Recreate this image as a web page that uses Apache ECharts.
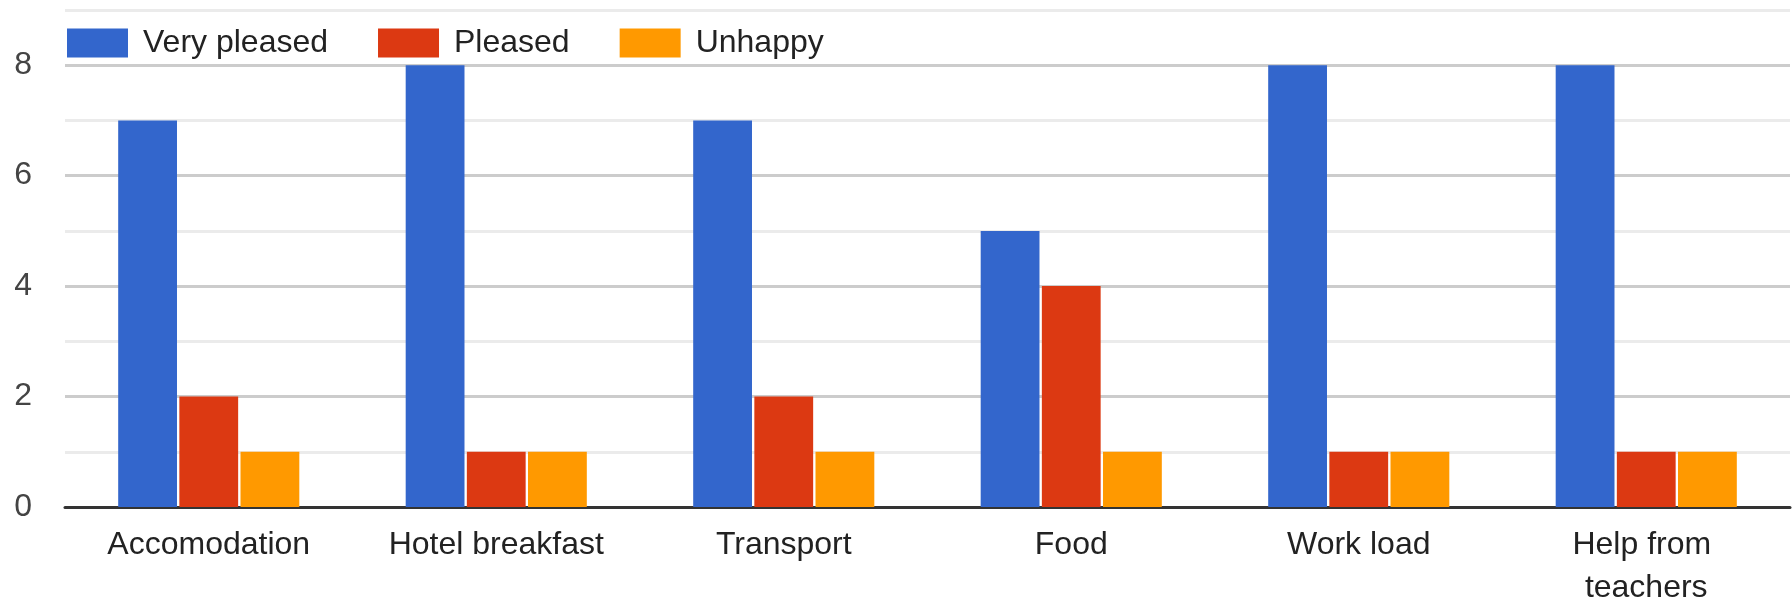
<!DOCTYPE html>
<html style="height: 100%">
<head>
    <meta charset="UTF-8">
    <title>Survey</title>
    <script type="text/javascript" src="https://cdn.jsdelivr.net/npm/echarts/dist/echarts.min.js"></script>
</head>
<body style="height: 100%; margin: 0; background: #fff">
    <div id="container" style="width: 1792px; height: 599px"></div>
<script>
    var categories = ['Accomodation', 'Hotel breakfast', 'Transport', 'Food', 'Work load', 'Help from teachers'];
    var veryPleased = [7, 8, 7, 5, 8, 8];
    var pleased = [2, 1, 2, 4, 1, 1];
    var unhappy = [1, 1, 1, 1, 1, 1];
    var yTicks = [0, 2, 4, 6, 8];

    var font = 'Liberation Sans, Arial, sans-serif';
    var myChart = echarts.init(document.getElementById('container'));

    function bar(name, data, color) {
        return {
            name: name,
            type: 'bar',
            data: data,
            barGap: '4%',
            barCategoryGap: '37%',
            itemStyle: { color: color },
            emphasis: { disabled: true }
        };
    }

    var option = {
        animation: false,
        textStyle: { fontFamily: font },
        legend: {
            left: 67,
            top: 27,
            padding: 0,
            itemWidth: 61,
            itemHeight: 29,
            itemGap: 50,
            icon: 'rect',
            textStyle: { fontSize: 32, color: '#222', fontFamily: font, padding: [0, 0, 0, 10] },
            data: ['Very pleased', 'Pleased', 'Unhappy']
        },
        grid: { left: 65, right: 2, top: 10, bottom: 92, containLabel: false, outerBoundsMode: 'none' },
        xAxis: {
            type: 'category',
            data: categories,
            axisTick: { show: false },
            axisLine: { lineStyle: { color: '#333', width: 3 } },
            axisLabel: {
                fontSize: 32, color: '#222', margin: 17, lineHeight: 43,
                width: 260, overflow: 'break', interval: 0
            }
        },
        yAxis: {
            type: 'value',
            min: 0,
            max: 9,
            interval: 1,
            axisLine: { show: false },
            axisTick: { show: false },
            axisLabel: {
                fontSize: 32, color: '#444', margin: 33,
                formatter: function (v) { return yTicks.indexOf(v) >= 0 ? String(v) : ''; }
            },
            splitLine: { lineStyle: { color: ['#cccccc', '#ebebeb'], width: 3 } }
        },
        series: [
            bar('Very pleased', veryPleased, '#3366cc'),
            bar('Pleased', pleased, '#dc3912'),
            bar('Unhappy', unhappy, '#ff9900')
        ]
    };
    myChart.setOption(option);
</script>
</body>
</html>
